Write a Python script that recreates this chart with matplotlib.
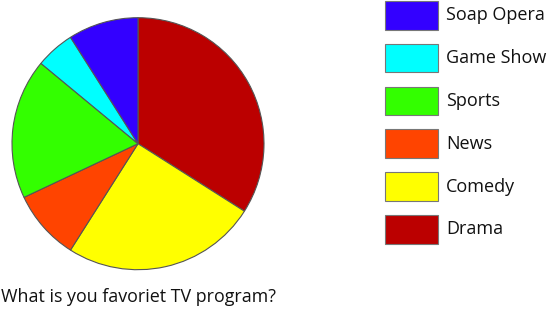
import matplotlib.pyplot as plt
from matplotlib.patches import Rectangle

plt.rcParams['font.family'] = ['Open Sans', 'DejaVu Sans']

# pie order (clockwise from 12 o'clock)
programs = ["Drama", "Comedy", "News", "Sports", "Game Show", "Soap Opera"]
votes = [34, 25, 9, 18, 5, 9]
colors = ["#bb0000", "#ffff00", "#ff4400", "#33ff00", "#00ffff", "#3300ff"]

# legend order (top to bottom)
legend_order = ["Soap Opera", "Game Show", "Sports", "News", "Comedy", "Drama"]

W, H = 547, 312
fig = plt.figure(figsize=(W / 100, H / 100), dpi=100)
ax = fig.add_axes([0, 0, 1, 1])

ax.pie(votes, colors=colors, startangle=90, counterclock=False,
       center=(138, H - 143.7), radius=126, frame=True,
       wedgeprops=dict(edgecolor="#555555", linewidth=0.8))
ax.set_xlim(0, W)
ax.set_ylim(0, H)
ax.set_aspect('equal')
ax.axis('off')

color_of = dict(zip(programs, colors))
for i, name in enumerate(legend_order):
    top = 1 + i * 42.8
    ax.add_patch(Rectangle((385, H - top - 28.5), 53, 28.5,
                           facecolor=color_of[name], edgecolor="#777777", lw=0.8))
    ax.text(446, H - top - 14.5, name, fontsize=13, va='center', ha='left', color='#111111')

ax.text(1, H - 297, "What is you favoriet TV program?", fontsize=12.9,
        va='center', ha='left', color='#111111')

fig.savefig("out.png", dpi=100)
